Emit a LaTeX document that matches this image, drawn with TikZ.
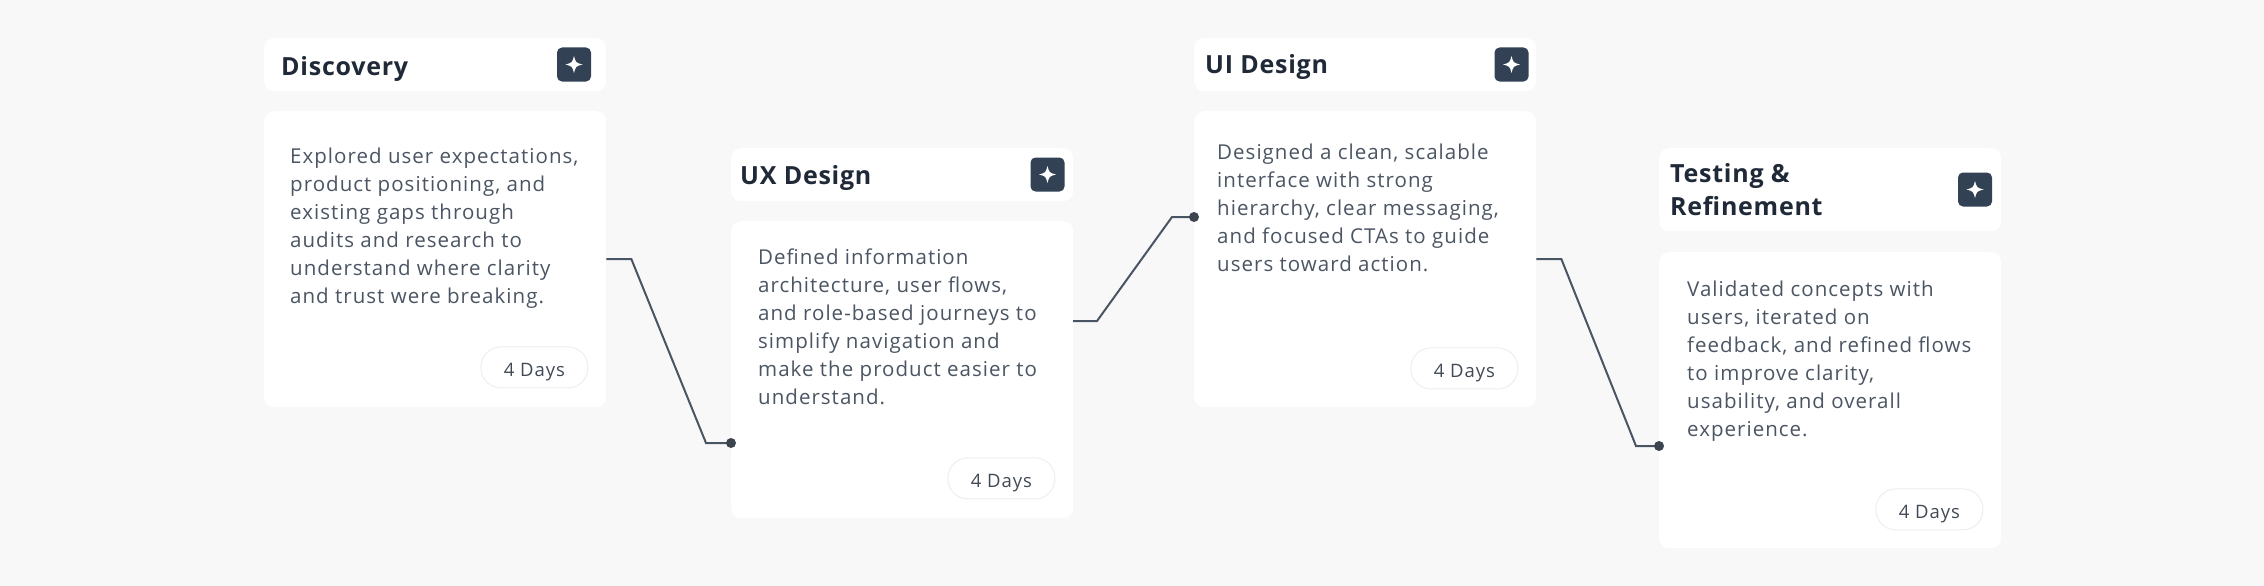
\documentclass[tikz,border=0pt]{standalone}
\usepackage{fontspec}
\setmainfont{Open Sans}[LetterSpace=5]
\newfontfamily\headfont{Open Sans}[LetterSpace=3]
\usetikzlibrary{calc}

\definecolor{pagebg}{HTML}{F8F8F9}
\definecolor{ink}{HTML}{1F2937}
\definecolor{bodyink}{HTML}{4B5563}
\definecolor{iconfill}{HTML}{334155}
\definecolor{wirecol}{HTML}{4A5563}
\definecolor{pillrule}{HTML}{EDEEF0}

\begin{document}
\begin{tikzpicture}[x=1pt,y=-1pt,
	card/.style={fill=white,rounded corners=10pt,anchor=north west,minimum width=342pt,inner sep=0pt},
	head/.style={anchor=base west,inner sep=0pt,text=ink,align=left,font=\headfont\bfseries\fontsize{25}{33}\selectfont},
	blurb/.style={anchor=north west,inner sep=0pt,text=bodyink,align=left,font=\fontsize{20.5}{28}\selectfont},
	pill/.style={draw=pillrule,line width=1pt,fill=white,rounded corners=20pt,minimum width=107pt,minimum height=41pt,inner sep=0pt,text height=18.7pt,text depth=0pt,anchor=south east,text=ink!85,font=\fontsize{18.5}{20}\selectfont},
	iconbox/.style={fill=iconfill,rounded corners=5pt,minimum size=34pt,inner sep=0pt},
	wire/.style={draw=wirecol,line width=2pt},
	sparkle/.pic={\fill[white] (0,-8.5) .. controls (1.8,-1.8) .. (8.5,0) .. controls (1.8,1.8) .. (0,8.5) .. controls (-1.8,1.8) .. (-8.5,0) .. controls (-1.8,-1.8) .. (0,-8.5) -- cycle;}
	]
	\fill[pagebg] (0,0) rectangle (2264,586);
	\useasboundingbox (0,0) rectangle (2264,586);
	
	% Discovery
	\node [card,minimum height=53pt] (disc) at (264,38) {};
	\node [card,minimum height=296pt] (discbody) at (264,111) {};
	\node [head] (disctitle) at (281,75) {Discovery};
	\node [iconbox] (discicon) at (574,64.5) {};
	\pic at (discicon) {sparkle};
	\node [blurb] (disctext) at (290,147.5) {Explored user expectations,\\product positioning, and\\existing gaps through\\audits and research to\\understand where clarity\\and trust were breaking.};
	\node [pill] (discpill) at ($(discbody.south east)+(-18,-19)$) {4 Days};
	
	% UX Design
	\node [card,minimum height=53pt] (ux) at (731,148) {};
	\node [card,minimum height=297pt] (uxbody) at (731,221) {};
	\node [head] (uxtitle) at (740,184) {UX Design};
	\node [iconbox] (uxicon) at (1047.5,174.5) {};
	\pic at (uxicon) {sparkle};
	\node [blurb] (uxtext) at (758,248.5) {Defined information\\architecture, user flows,\\and role-based journeys to\\simplify navigation and\\make the product easier to\\understand.};
	\node [pill] (uxpill) at ($(uxbody.south east)+(-18,-19)$) {4 Days};
	
	% UI Design
	\node [card,minimum height=53pt] (ui) at (1194,38) {};
	\node [card,minimum height=296pt] (uibody) at (1194,111) {};
	\node [head] (uititle) at (1205,74) {UI Design};
	\node [iconbox] (uiicon) at (1511.5,64.5) {};
	\pic at (uiicon) {sparkle};
	\node [blurb] (uitext) at (1217,143.5) {Designed a clean, scalable\\interface with strong\\hierarchy, clear messaging,\\and focused CTAs to guide\\users toward action.};
	\node [pill] (uipill) at ($(uibody.south east)+(-18,-18)$) {4 Days};
	
	% Testing & Refinement
	\node [card,minimum height=83pt] (tst) at (1659,148) {};
	\node [card,minimum height=296pt] (tstbody) at (1659,252) {};
	\node [head,anchor=west] (tsttitle) at (1670,190) {Testing \&\\Refinement};
	\node [iconbox] (tsticon) at (1975,189.5) {};
	\pic at (tsticon) {sparkle};
	\node [blurb] (tsttext) at (1687,280.5) {Validated concepts with\\users, iterated on\\feedback, and refined flows\\to improve clarity,\\usability, and overall\\experience.};
	\node [pill] (tstpill) at ($(tstbody.south east)+(-18,-18)$) {4 Days};
	
	% connectors
	\coordinate (uxin) at (731,443);
	\coordinate (uxout) at (1073,321);
	\coordinate (uiin) at (1194,217);
	\coordinate (tstin) at (1659,446);
	
	\draw [wire] (discbody.east) -- ++(25,0) -- ($(uxin)+(-25,0)$) -- (uxin);
	\draw [wire] (uxout) -- ++(24,0) -- ($(uiin)+(-22,0)$) -- (uiin);
	\draw [wire] (uibody.east) -- ++(25,0) -- ($(tstin)+(-23,0)$) -- (tstin);
	\foreach \p in {uxin,uiin,tstin}
		\fill [wirecol!80!black] (\p) circle (5);
	
\end{tikzpicture}
\end{document}
